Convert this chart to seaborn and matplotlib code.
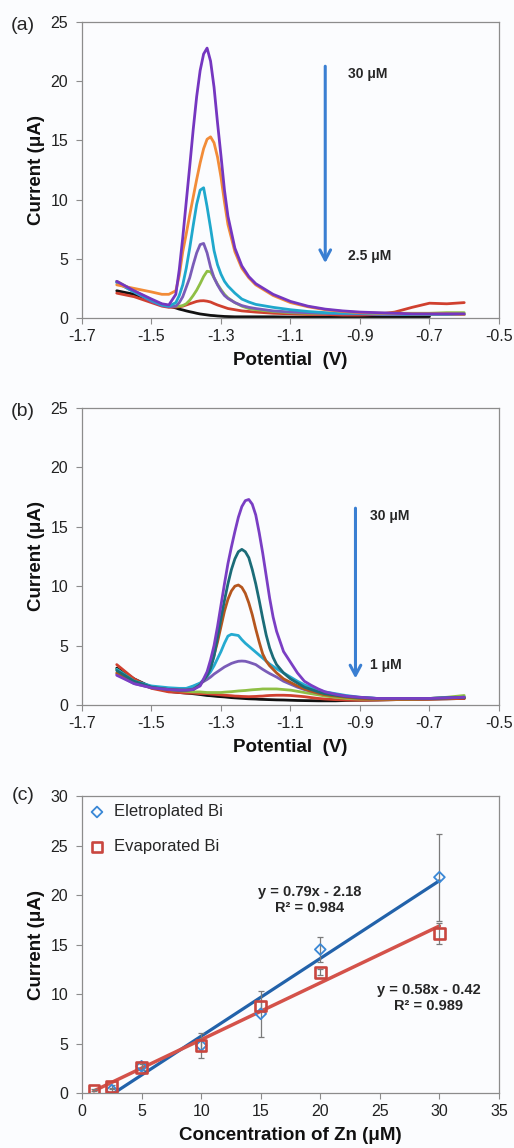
import numpy as np
import pandas as pd
import matplotlib
matplotlib.use("Agg")
import matplotlib.pyplot as plt
import seaborn as sns

nan = np.nan

# (a) evaporated Bi, DPV curves, blank to 30 uM
pot_a = [-1.60, -1.55, -1.50, -1.47, -1.45, -1.43, -1.42, -1.41, -1.40, -1.39,
         -1.38, -1.37, -1.36, -1.35, -1.34, -1.33, -1.32, -1.31, -1.30, -1.29,
         -1.28, -1.26, -1.24, -1.22, -1.20, -1.15, -1.10, -1.05, -1.00, -0.95,
         -0.90, -0.85, -0.80, -0.75, -0.70, -0.65, -0.60]
a_black = [2.3, 2.0, 1.5, 1.15, 1.0, 0.85, 0.75, 0.68, 0.6, 0.53,
           0.47, 0.4, 0.34, 0.3, 0.26, 0.22, 0.2, 0.17, 0.15, 0.13,
           0.12, 0.1, 0.1, 0.1, 0.1, 0.1, 0.08, 0.08, 0.08, 0.08,
           0.08, 0.08, 0.08, 0.1, 0.12, nan, nan]
a_red = [2.1, 1.8, 1.3, 1.0, 0.9, 0.92, 0.95, 1.0, 1.1, 1.2,
         1.3, 1.4, 1.45, 1.46, 1.42, 1.35, 1.22, 1.1, 1.0, 0.9,
         0.8, 0.7, 0.6, 0.55, 0.5, 0.4, 0.35, 0.3, 0.3, 0.25,
         0.25, 0.3, 0.5, 0.9, 1.25, 1.2, 1.3]
a_green = [3.1, 2.3, 1.5, 1.15, 1.05, 1.0, 1.0, 1.05, 1.2, 1.5,
           1.9, 2.35, 2.9, 3.5, 3.95, 3.9, 3.4, 2.85, 2.4, 2.0,
           1.7, 1.3, 1.0, 0.8, 0.7, 0.55, 0.45, 0.4, 0.4, 0.4,
           0.4, 0.4, 0.4, 0.4, 0.4, 0.45, 0.45]
a_lpurple = [3.0, 2.2, 1.4, 1.05, 0.95, 1.0, 1.3, 1.8, 2.6, 3.4,
             4.5, 5.5, 6.2, 6.3, 5.5, 4.3, 3.4, 2.8, 2.3, 1.9,
             1.65, 1.3, 1.05, 0.9, 0.8, 0.6, 0.5, 0.45, 0.4, 0.35,
             0.35, 0.3, 0.3, 0.3, 0.3, 0.3, 0.3]
a_cyan = [3.0, 2.2, 1.5, 1.1, 1.0, 1.3, 1.9, 2.8, 4.2, 5.9,
          7.8, 9.6, 10.8, 11.0, 9.4, 7.6, 5.7, 4.5, 3.7, 3.1,
          2.7, 2.1, 1.6, 1.35, 1.15, 0.9, 0.7, 0.55, 0.45, 0.4,
          0.4, 0.35, 0.35, 0.3, 0.3, 0.3, 0.3]
a_orange = [2.8, 2.5, 2.2, 2.0, 2.0, 2.3, 3.6, 5.6, 7.1, 8.7,
            10.2, 11.7, 13.1, 14.3, 15.1, 15.3, 14.8, 13.6, 11.9, 9.8,
            7.9, 5.6, 4.2, 3.4, 2.8, 1.9, 1.3, 0.95, 0.7, 0.55,
            0.45, 0.4, 0.4, 0.35, 0.35, 0.35, 0.3]
a_violet = [3.1, 2.3, 1.6, 1.2, 1.1, 2.0, 4.1, 6.8, 9.8, 12.8,
            15.9, 18.7, 20.9, 22.3, 22.8, 21.7, 19.5, 16.5, 13.7, 10.8,
            8.6, 5.9, 4.4, 3.5, 2.9, 2.0, 1.4, 1.0, 0.75, 0.6,
            0.5, 0.45, 0.4, 0.35, 0.35, 0.35, 0.35]

# (b) electroplated Bi, DPV curves, blank to 30 uM
pot_b = [-1.60, -1.55, -1.50, -1.45, -1.42, -1.40, -1.38, -1.36, -1.34,
         -1.33, -1.32, -1.31, -1.30, -1.29, -1.28, -1.27, -1.26, -1.25, -1.24,
         -1.23, -1.22, -1.21, -1.20, -1.19, -1.18, -1.17, -1.16, -1.15, -1.14,
         -1.12, -1.10, -1.08, -1.06, -1.04, -1.02, -1.00,
         -0.97, -0.94, -0.90, -0.85, -0.80, -0.75, -0.70, -0.65, -0.60]
b_black = [3.1, 2.2, 1.5, 1.15, 1.05, 1.0, 0.95, 0.88, 0.8,
           0.78, 0.75, 0.72, 0.7, 0.68, 0.65, 0.62, 0.6, 0.58, 0.56,
           0.54, 0.52, 0.51, 0.5, 0.48, 0.47, 0.46, 0.45, 0.44, 0.43,
           0.42, 0.4, 0.38, 0.37, 0.36, 0.35, 0.35,
           0.35, 0.38, 0.4, 0.42, 0.45, 0.48, 0.5, 0.52, 0.55]
b_red = [3.4, 2.2, 1.4, 1.1, 1.05, 1.0, 1.0, 0.95, 0.95,
         0.92, 0.9, 0.88, 0.85, 0.82, 0.8, 0.78, 0.75, 0.74, 0.72,
         0.71, 0.7, 0.71, 0.72, 0.74, 0.75, 0.78, 0.8, 0.81, 0.82,
         0.82, 0.8, 0.75, 0.7, 0.62, 0.55, 0.5,
         0.45, 0.42, 0.4, 0.42, 0.45, 0.48, 0.5, 0.52, 0.55]
b_green = [3.0, 2.0, 1.5, 1.3, 1.2, 1.15, 1.1, 1.1, 1.05,
           1.05, 1.05, 1.05, 1.05, 1.08, 1.1, 1.12, 1.15, 1.18, 1.2,
           1.22, 1.25, 1.28, 1.3, 1.32, 1.35, 1.35, 1.35, 1.35, 1.35,
           1.3, 1.25, 1.15, 1.05, 0.95, 0.85, 0.75,
           0.65, 0.55, 0.5, 0.5, 0.5, 0.5, 0.55, 0.65, 0.8]
b_lpurple = [2.6, 1.8, 1.45, 1.3, 1.25, 1.3, 1.55, 1.8, 2.15,
             2.35, 2.6, 2.8, 3.0, 3.2, 3.35, 3.5, 3.6, 3.68, 3.7,
             3.68, 3.6, 3.5, 3.4, 3.2, 3.0, 2.82, 2.65, 2.5, 2.35,
             2.0, 1.75, 1.5, 1.3, 1.15, 1.0, 0.9,
             0.8, 0.7, 0.6, 0.55, 0.55, 0.55, 0.55, 0.6, 0.65]
b_cyan = [3.0, 2.0, 1.6, 1.45, 1.4, 1.4, 1.6, 1.85, 2.4,
          2.8, 3.3, 3.9, 4.5, 5.2, 5.8, 5.95, 5.9, 5.85, 5.5,
          5.2, 4.95, 4.7, 4.45, 4.2, 3.95, 3.7, 3.45, 3.25, 3.05,
          2.7, 2.35, 2.0, 1.7, 1.45, 1.25, 1.1,
          0.95, 0.8, 0.65, 0.55, 0.55, 0.55, 0.55, 0.6, 0.65]
b_brown = [2.7, 1.9, 1.45, 1.3, 1.25, 1.25, 1.3, 1.7, 2.5,
           3.2, 4.2, 5.3, 6.6, 7.9, 8.9, 9.6, 10.0, 10.1, 9.9,
           9.4, 8.6, 7.6, 6.4, 5.3, 4.3, 3.7, 3.3, 3.0, 2.7,
           2.2, 1.9, 1.6, 1.35, 1.15, 1.0, 0.85,
           0.75, 0.65, 0.55, 0.5, 0.5, 0.5, 0.5, 0.55, 0.6]
b_teal = [2.9, 2.0, 1.5, 1.3, 1.25, 1.25, 1.3, 1.7, 2.5,
          3.1, 4.1, 5.7, 7.3, 8.8, 10.2, 11.4, 12.3, 12.9, 13.1,
          12.9, 12.4, 11.4, 10.2, 8.8, 7.3, 5.9, 4.8, 4.0, 3.4,
          2.7, 2.2, 1.85, 1.5, 1.3, 1.1, 0.95,
          0.82, 0.72, 0.62, 0.55, 0.55, 0.55, 0.55, 0.6, 0.65]
b_violet = [2.5, 1.8, 1.45, 1.3, 1.25, 1.25, 1.3, 1.6, 2.8,
            3.8, 5.0, 6.6, 8.4, 10.2, 11.9, 13.3, 14.6, 15.8, 16.7,
            17.2, 17.3, 16.9, 16.0, 14.5, 12.8, 10.9, 9.0, 7.4, 6.2,
            4.5, 3.6, 2.7, 2.0, 1.65, 1.35, 1.1,
            0.9, 0.75, 0.65, 0.55, 0.55, 0.55, 0.55, 0.6, 0.65]

# (c) calibration
conc_ep = [2.5, 5, 10, 15, 20, 30]
cur_ep = [0.3, 2.7, 4.8, 8.0, 14.5, 21.8]
err_ep = [0.2, 0.4, 1.3, 2.3, 1.25, 4.4]
conc_ev = [1, 2.5, 5, 10, 15, 20, 30]
cur_ev = [0.3, 0.64, 2.6, 4.8, 8.8, 12.2, 16.1]
err_ev = [0.1, 0.2, 0.3, 0.6, 0.5, 0.3, 1.05]

bg = "#fbfcfe"
grey = "#8c8c8c"

sns.set_theme(style="white")
plt.rcParams['font.family'] = ['Liberation Sans', 'DejaVu Sans']
plt.rcParams['axes.unicode_minus'] = False


def long_df(pot, curves):
    frames = []
    for name, vals in curves.items():
        frames.append(pd.DataFrame({"pot": pot, "cur": vals, "trace": name}))
    return pd.concat(frames, ignore_index=True)


def style_axes(ax, xlabel, ylabel):
    ax.set_facecolor(bg)
    for sp in ax.spines.values():
        sp.set_color(grey)
        sp.set_linewidth(0.9)
    ax.tick_params(direction="out", length=4, width=0.8, color=grey,
                   labelsize=11.5, labelcolor="#222222")
    ax.tick_params(axis="x", bottom=True, pad=4)
    ax.tick_params(axis="y", left=True, pad=6)
    ax.set_xlabel(xlabel, fontsize=13.5, fontweight="bold", color="#111111")
    ax.set_ylabel(ylabel, fontsize=13.5, fontweight="bold", color="#111111")
    ax.xaxis.set_label_coords(0.5, -0.115)
    ax.yaxis.set_label_coords(-0.088, 0.5)


fig = plt.figure(figsize=(5.14, 11.48), dpi=100, facecolor=bg)
ax_a = fig.add_axes([0.1595, 0.7230, 0.8113, 0.2578])
ax_b = fig.add_axes([0.1595, 0.3859, 0.8113, 0.2587])
ax_c = fig.add_axes([0.1595, 0.0479, 0.8113, 0.2587])

arrow_kw = dict(arrowstyle="->,head_length=0.6,head_width=0.32",
                color="#3a7fd2", lw=2.2)
line_kw = dict(estimator=None, sort=False, lw=2.0, legend=False,
               solid_joinstyle="round", solid_capstyle="round")

# panel a
curves_a = {"blank": a_black, "c1": a_red, "c2": a_green, "c3": a_lpurple,
            "c4": a_cyan, "c5": a_orange, "c6": a_violet}
pal_a = {"blank": "#111111", "c1": "#d0402f", "c2": "#8fbf45", "c3": "#7a5cb8",
         "c4": "#1fa8cc", "c5": "#f28c38", "c6": "#7536c0"}
sns.lineplot(data=long_df(pot_a, curves_a), x="pot", y="cur", hue="trace",
             hue_order=list(curves_a), palette=pal_a, ax=ax_a, **line_kw)
ax_a.set_xlim(-1.7, -0.5)
ax_a.set_ylim(0, 25)
ax_a.set_xticks([-1.7, -1.5, -1.3, -1.1, -0.9, -0.7, -0.5])
ax_a.set_yticks([0, 5, 10, 15, 20, 25])
style_axes(ax_a, "Potential  (V)", "Current (\u03bcA)")
ax_a.annotate("", xy=(-1.0, 4.4), xytext=(-1.0, 21.5), arrowprops=arrow_kw)
ax_a.text(-0.935, 20.6, "30 \u03bcM", fontsize=10, fontweight="bold", va="center")
ax_a.text(-0.935, 5.2, "2.5 \u03bcM", fontsize=10, fontweight="bold", va="center")

# panel b
curves_b = {"blank": b_black, "c1": b_red, "c2": b_green, "c3": b_lpurple,
            "c4": b_cyan, "c5": b_brown, "c6": b_teal, "c7": b_violet}
pal_b = {"blank": "#111111", "c1": "#d0402f", "c2": "#8fbf45", "c3": "#7a5cb8",
         "c4": "#25aad0", "c5": "#b5561e", "c6": "#1b6c78", "c7": "#7a3ec4"}
sns.lineplot(data=long_df(pot_b, curves_b), x="pot", y="cur", hue="trace",
             hue_order=list(curves_b), palette=pal_b, ax=ax_b, **line_kw)
ax_b.set_xlim(-1.7, -0.5)
ax_b.set_ylim(0, 25)
ax_b.set_xticks([-1.7, -1.5, -1.3, -1.1, -0.9, -0.7, -0.5])
ax_b.set_yticks([0, 5, 10, 15, 20, 25])
style_axes(ax_b, "Potential  (V)", "Current (\u03bcA)")
ax_b.annotate("", xy=(-0.913, 2.0), xytext=(-0.913, 16.8), arrowprops=arrow_kw)
ax_b.text(-0.872, 15.9, "30 \u03bcM", fontsize=10, fontweight="bold", va="center")
ax_b.text(-0.872, 3.4, "1 \u03bcM", fontsize=10, fontweight="bold", va="center")

# panel c
blue_line, blue_pt = "#2262aa", "#3a88d6"
red_line, red_pt = "#d4524a", "#c9463f"
sns.regplot(x=conc_ep, y=cur_ep, ci=None, scatter=False, color=blue_line,
            line_kws=dict(lw=2.3), ax=ax_c)
sns.regplot(x=conc_ev, y=cur_ev, ci=None, scatter=False, color=red_line,
            line_kws=dict(lw=2.5), ax=ax_c)
ax_c.errorbar(conc_ep, cur_ep, yerr=err_ep, fmt="none", ecolor="#7a7a7a",
              elinewidth=0.9, capsize=2.5, capthick=0.9, zorder=3)
ax_c.errorbar(conc_ev, cur_ev, yerr=err_ev, fmt="none", ecolor="#7a7a7a",
              elinewidth=0.9, capsize=2.5, capthick=0.9, zorder=3)
sns.scatterplot(x=conc_ep, y=cur_ep, marker="D", s=30, facecolor="none",
                edgecolor=blue_pt, linewidth=1.3, label="Eletroplated Bi",
                zorder=4, ax=ax_c)
sns.scatterplot(x=conc_ev, y=cur_ev, marker="s", s=58, facecolor="none",
                edgecolor=red_pt, linewidth=1.9, label="Evaporated Bi",
                zorder=4, ax=ax_c)
ax_c.set_xlim(0, 35)
ax_c.set_ylim(0, 30)
ax_c.set_xticks(range(0, 36, 5))
ax_c.set_yticks(range(0, 31, 5))
style_axes(ax_c, "Concentration of Zn (\u03bcM)", "Current (\u03bcA)")
ax_c.legend(loc="upper left", frameon=False, fontsize=12, labelspacing=1.2,
            handlelength=0.8, handletextpad=0.6, borderaxespad=0.1)
ax_c.text(19.1, 19.5, "y = 0.79x - 2.18\nR\u00b2 = 0.984", fontsize=10.5,
          fontweight="bold", ha="center", va="center", linespacing=1.1)
ax_c.text(29.1, 9.6, "y = 0.58x - 0.42\nR\u00b2 = 0.989", fontsize=10.5,
          fontweight="bold", ha="center", va="center", linespacing=1.1)

for lab, ypx in (("(a)", 25), ("(b)", 412), ("(c)", 796)):
    fig.text(23 / 514, 1 - ypx / 1148, lab, fontsize=14, ha="center", va="center")

fig.savefig("out.png", dpi=100, facecolor=bg)
